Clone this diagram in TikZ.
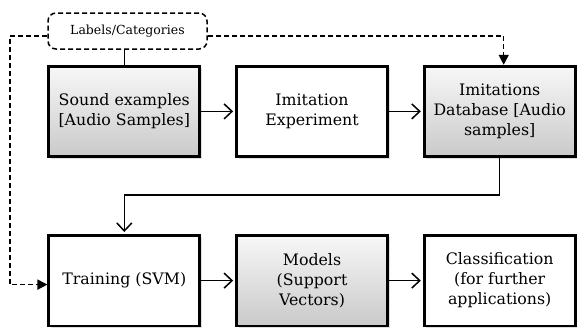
\documentclass[tikz,border=0pt]{standalone}
\usepackage{fontspec}
\setmainfont{DejaVu Serif}
\usetikzlibrary{arrows.meta,positioning,shadows,calc}

\begin{document}
\begin{tikzpicture}[
  x=1pt,y=-1pt,
  every matrix/.style={ampersand replacement=\&,column sep=34pt,row sep=76pt,inner sep=0pt},
  process/.style={draw,line width=2.7pt,fill=white,minimum width=151pt,minimum height=90.5pt,
    font=\fontsize{15.8}{20}\selectfont,drop shadow={shadow xshift=2pt,shadow yshift=-2pt,opacity=.25}},
  source/.style={process,top color=gray!6,bottom color=gray!42},
  labelbox/.style={draw,line width=1.5pt,rounded corners=8pt,dash pattern=on 5pt off 3pt,
    minimum width=159pt,minimum height=36pt,font=\fontsize{12.5}{14}\selectfont},
  to/.style={-{Straight Barb[length=8pt,width=15pt]},line width=1.5pt,shorten >=2pt},
  dashto/.style={-{Triangle[length=10pt,width=10pt]},dash pattern=on 5pt off 3pt,line width=1.5pt},
  every node/.style={align=center}]

  \path[use as bounding box,clip] (0,0) rectangle (577,327);

  % Kategorien oben
  \node[labelbox] (labels) at (127.5,31) {Labels/Categories};

  % Bloecke ueber Matrix-Layout
  \matrix at (312,196) {
    \node[source] (sound) {Sound examples\\{}[Audio Samples]}; \&
    \node[process] (imit) {Imitation\\ Experiment}; \&
    \node[source] (db) {Imitations\\ Database [Audio\\ samples]}; \\
    \node[process] (train) {Training (SVM)}; \&
    \node[source] (models) {Models\\ (Support\\ Vectors)}; \&
    \node[process] (classif) {Classification\\ (for further\\ applications)}; \\
  };

  % Hilfspunkte
  \coordinate (lft) at (10,36);
  \coordinate (turn) at (0,195);

  % gestrichelte Verbindungen
  \draw[line width=1.5pt] (labels.south -| sound.north) -- (sound.north);
  \draw[dashto] (labels.west |- lft) -- (lft) |- ([yshift=-4pt]train.west);
  \draw[dashto] (labels.east |- lft) -| ([xshift=4pt]db.north);

  % Ablauf
  \draw[to] (sound) -- (imit);
  \draw[to] (imit) -- (db);
  \draw[to] (db.south) -- (db.south |- turn) -| (train.north);
  \draw[to] (train) -- (models);
  \draw[to] (models) -- (classif);

\end{tikzpicture}
\end{document}
